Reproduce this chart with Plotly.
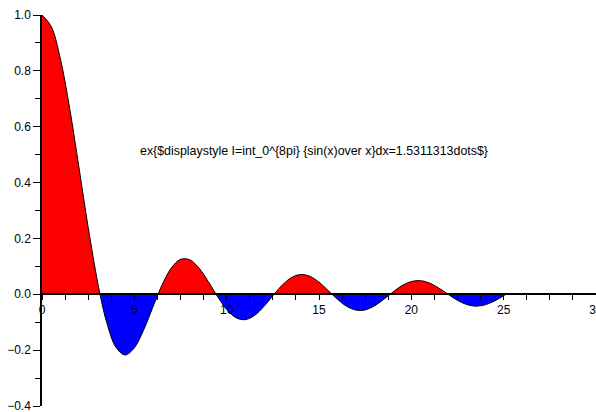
import plotly.graph_objects as go

# Curve samples (x, y); zero crossings included
xs = [0.0, 0.5, 1.0, 1.5, 2.0, 2.5, 3.0, 3.1416,
      3.5, 4.0, 4.5, 5.0, 5.5, 6.0, 6.2832,
      6.5, 7.0, 7.5, 8.0, 8.5, 9.0, 9.4248,
      9.5, 10.0, 10.5, 11.0, 11.5, 12.0, 12.5, 12.5664,
      13.0, 13.5, 14.0, 14.5, 15.0, 15.5, 15.708,
      16.0, 16.5, 17.0, 17.5, 18.0, 18.5, 18.8496,
      19.0, 19.5, 20.0, 20.5, 21.0, 21.5, 21.9911,
      22.5, 23.0, 23.5, 24.0, 24.5, 25.0, 25.1327]
ys = [1.0, 0.9589, 0.8415, 0.6650, 0.4546, 0.2394, 0.0470, 0.0,
      -0.1002, -0.1892, -0.2172, -0.1918, -0.1283, -0.0466, 0.0,
      0.0331, 0.0939, 0.1251, 0.1237, 0.0939, 0.0458, 0.0,
      -0.0079, -0.0544, -0.0838, -0.0909, -0.0761, -0.0447, -0.0053, 0.0,
      0.0323, 0.0595, 0.0708, 0.0645, 0.0434, 0.0133, 0.0,
      -0.0180, -0.0432, -0.0566, -0.0559, -0.0417, -0.0183, 0.0,
      0.0079, 0.0311, 0.0456, 0.0486, 0.0398, 0.0218, 0.0,
      -0.0217, -0.0368, -0.0425, -0.0377, -0.0242, -0.0053, 0.0]

x_ticks = [0, 5, 10, 15, 20, 25, 30]
y_ticks = [-0.4, -0.2, 0.0, 0.2, 0.4, 0.6, 0.8, 1.0]
label_text = "ex{$displaystyle I=int_0^{8pi} {sin(x)over x}dx=1.5311313dots$}"

POS_COLOR = "#ff0000"
NEG_COLOR = "#0000ff"

# split into lobes at zero crossings
segments = []
cur_x, cur_y = [xs[0]], [ys[0]]
for x, y in zip(xs[1:], ys[1:]):
    cur_x.append(x)
    cur_y.append(y)
    if y == 0.0:
        segments.append((cur_x, cur_y))
        cur_x, cur_y = [x], [y]

fig = go.Figure()
for sx, sy in segments:
    sign = 1 if max(sy) > 0 else -1
    fig.add_trace(go.Scatter(
        x=sx, y=sy, mode="lines",
        line=dict(color="black", width=1, shape="spline", smoothing=1),
        fill="tozeroy",
        fillcolor=POS_COLOR if sign > 0 else NEG_COLOR,
        showlegend=False, hoverinfo="skip"))

fig.add_annotation(x=14.75, y=0.514, xref="x", yref="y", text=label_text,
                   showarrow=False, xanchor="center", yanchor="middle",
                   font=dict(family="Liberation Sans, Arial, sans-serif", size=12.4, color="black"))

fig.update_layout(
    width=596, height=412,
    margin=dict(l=42, r=0, t=15, b=6),
    paper_bgcolor="white", plot_bgcolor="white",
    font=dict(family="Liberation Sans, Arial, sans-serif", size=12, color="black"),
    xaxis=dict(range=[0, 30], anchor="free", position=0.4 / 1.4,
               tickvals=x_ticks, ticktext=[str(v) for v in x_ticks],
               ticks="outside", ticklen=5, tickwidth=1, tickcolor="black",
               ticklabeloverflow="allow",
               minor=dict(dtick=1.25, tick0=0, ticks="outside", ticklen=5, tickwidth=1, tickcolor="black"),
               showline=True, linecolor="black", linewidth=1.5,
               showgrid=False, zeroline=False, automargin=False),
    yaxis=dict(range=[-0.4, 1.0], tickvals=y_ticks,
               ticktext=[("\u2212%.1f" % -v) if v < 0 else "%.1f" % v for v in y_ticks],
               ticks="outside", ticklen=7, tickwidth=1, tickcolor="black",
               ticklabeloverflow="allow",
               minor=dict(dtick=0.1, tick0=0, ticks="outside", ticklen=5, tickwidth=1, tickcolor="black"),
               showline=True, linecolor="black", linewidth=1.5,
               showgrid=False, zeroline=False, automargin=False),
)

fig.write_html("out.html", config={"displayModeBar": False},
               post_script="document.body.style.margin='0';document.body.style.overflow='hidden';")
